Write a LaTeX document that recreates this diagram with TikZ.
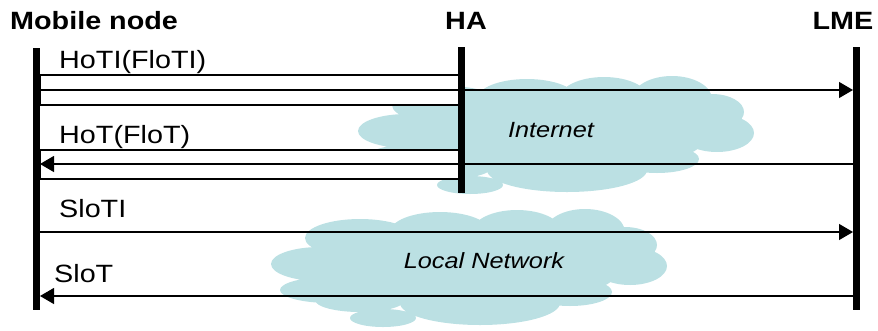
\documentclass[tikz,border=0pt]{standalone}
\usepackage{fontspec}
\setmainfont{Liberation Sans}[FakeStretch=1.15]
\usepackage{tikz}
\usetikzlibrary{arrows.meta}
\definecolor{cloudblue}{RGB}{187,224,227}
\tikzstyle{lifeline} = [draw, line width=7pt]
\tikzstyle{line} = [draw, line width=1.2pt]
\tikzstyle{arrowline} = [line, -{Triangle[length=14pt,width=16pt]}]
\tikzstyle{tunnel} = [line, fill=white]
\tikzstyle{header} = [font=\bfseries\fontsize{25}{30}\selectfont, inner sep=0pt]
\tikzstyle{msglabel} = [font=\fontsize{25}{30}\selectfont, inner sep=0pt, anchor=base west]
\tikzstyle{nettext} = [font=\itshape\fontsize{22}{26}\selectfont, inner sep=0pt]
% cloud made of puffs, centre at the pic origin
\tikzset{pics/netcloud/.style={code={
	\fill [cloudblue] (-149,-4) ellipse (49pt and 17pt)
		(-139,22) ellipse (50pt and 13pt)
		(-109,-30) ellipse (55pt and 19pt)
		(-29,-36) ellipse (50pt and 20pt)
		(48,-36) ellipse (45pt and 22pt)
		(116,-36) ellipse (40pt and 23pt)
		(156,-23) ellipse (32pt and 18pt)
		(161,-2) ellipse (37pt and 19pt)
		(1,0) ellipse (150pt and 40pt)
		(101,24) ellipse (42pt and 14pt)
		(11,35) ellipse (80pt and 22pt)
		(-86,50) ellipse (33pt and 9pt)
		(-109,32) ellipse (45pt and 12pt);
}}}
\begin{document}
\begin{tikzpicture}[x=1pt, y=-1pt]
				\useasboundingbox (0,0) rectangle (878,330);
				% Clouds
				\pic at (556,135) {netcloud};
				\pic at (469,268) {netcloud};
				\node [nettext] (inettext) at (551,130) {Internet};
				\node [nettext] (lantext) at (484,261) {Local Network};
				% Place nodes
				\node [header, anchor=west] (mnhead) at (10,21) {Mobile node};
				\node [header] (hahead) at (466,21) {HA};
				\node [header] (lmehead) at (843,21) {LME};
				\coordinate (mntop) at (36.5,48);
				\coordinate (mnbot) at (36.5,310);
				\coordinate (hatop) at (461.5,47);
				\coordinate (habot) at (461.5,193);
				\coordinate (lmetop) at (856.5,47);
				\coordinate (lmebot) at (856.5,310);
				\foreach \n/\y in {1/75,2/90,3/105,4/150,5/164,6/179,7/232,8/296} {
					\coordinate (mn\n) at (40,\y);
					\coordinate (ha\n) at (461,\y);
					\coordinate (lme\n) at (853,\y);
				}
				% Draw edges
				\path [tunnel] (mn1) rectangle (ha3);
				\path [tunnel] (mn4) rectangle (ha6);
				\path [arrowline] (mn2) -- (lme2);
				\path [arrowline] (lme5) -- (mn5);
				\path [arrowline] (mn7) -- (lme7);
				\path [arrowline] (lme8) -- (mn8);
				\path [lifeline] (mntop) -- (mnbot);
				\path [lifeline] (hatop) -- (habot);
				\path [lifeline] (lmetop) -- (lmebot);
				% Message labels
				\node [msglabel] (hoti) at (59,68) {HoTI(FloTI)};
				\node [msglabel] (hot) at (59,143) {HoT(FloT)};
				\node [msglabel] (sloti) at (59,217) {SloTI};
				\node [msglabel] (slot) at (54,282) {SloT};
			\end{tikzpicture}
\end{document}
